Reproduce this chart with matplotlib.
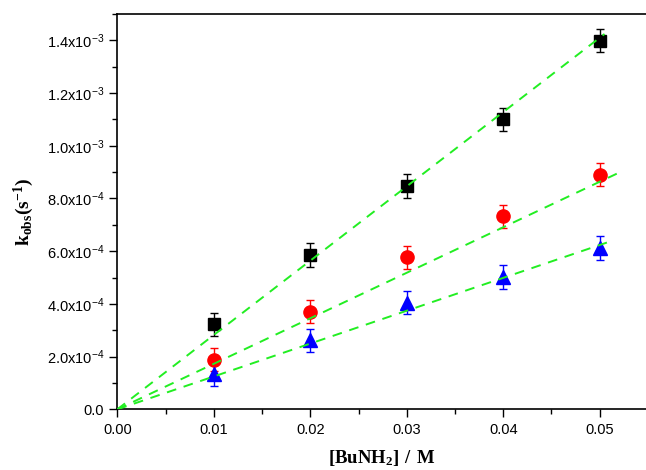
import numpy as np
import matplotlib.pyplot as plt
from matplotlib.ticker import MultipleLocator, FixedLocator, FixedFormatter

# Data
conc = [0.01, 0.02, 0.03, 0.04, 0.05]
k_black = [3.22e-4, 5.86e-4, 8.48e-4, 1.10e-3, 1.399e-3]
k_red = [1.88e-4, 3.70e-4, 5.77e-4, 7.32e-4, 8.90e-4]
k_blue = [1.34e-4, 2.62e-4, 4.05e-4, 5.02e-4, 6.12e-4]
err_black = [4.5e-5, 4.5e-5, 4.5e-5, 4.5e-5, 4.5e-5]
err_red = [4.4e-5, 4.4e-5, 4.4e-5, 4.4e-5, 4.4e-5]
err_blue = [4.4e-5, 4.4e-5, 4.4e-5, 4.4e-5, 4.4e-5]

# linear fits: slope, intercept, end of fitted line
fit_slopes = [0.0282, 0.01727, 0.01247]
fit_intercepts = [0.0, 0.0, 0.0]
fit_ends = [0.0505, 0.052, 0.0512]

ytick_vals = [0.0, 2e-4, 4e-4, 6e-4, 8e-4, 1.0e-3, 1.2e-3, 1.4e-3]
ytick_labels = ['0.0', r'$\mathregular{2.0x10^{-4}}$', r'$\mathregular{4.0x10^{-4}}$',
                r'$\mathregular{6.0x10^{-4}}$', r'$\mathregular{8.0x10^{-4}}$',
                r'$\mathregular{1.0x10^{-3}}$', r'$\mathregular{1.2x10^{-3}}$',
                r'$\mathregular{1.4x10^{-3}}$']

plt.rcParams['font.family'] = 'Liberation Sans'
plt.rcParams['mathtext.fontset'] = 'custom'
plt.rcParams['mathtext.rm'] = 'Liberation Sans'
plt.rcParams['mathtext.bf'] = 'Liberation Serif:bold'

fig = plt.figure(figsize=(6.46, 4.70), dpi=100)
ax = fig.add_axes([0.1816, 0.1291, 0.8184, 0.8411])

# fitted lines
for slope, b, xend in zip(fit_slopes, fit_intercepts, fit_ends):
    xs = np.array([0.0, xend])
    ax.plot(xs, slope * xs + b, color='#22ee22', lw=1.4, ls=(0, (5, 4)), zorder=3)

series = [
    (k_black, err_black, 's', 'black', 8.5),
    (k_red, err_red, 'o', 'red', 9.5),
    (k_blue, err_blue, '^', 'blue', 10),
]
for y, e, m, c, ms in series:
    ax.errorbar(conc, y, yerr=e, fmt=m, color=c, ms=ms, ecolor=c,
                elinewidth=1.0, capsize=3, capthick=1.0, zorder=2)

ax.set_xlim(0, 0.0548)
ax.set_ylim(0, 1.5e-3)
ax.xaxis.set_major_locator(MultipleLocator(0.01))
ax.xaxis.set_minor_locator(MultipleLocator(0.005))
ax.xaxis.set_major_formatter(plt.FuncFormatter(lambda v, p: f'{v:.2f}'))
ax.yaxis.set_major_locator(FixedLocator(ytick_vals))
ax.yaxis.set_major_formatter(FixedFormatter(ytick_labels))
ax.yaxis.set_minor_locator(MultipleLocator(1e-4))

ax.spines['right'].set_visible(False)
for s in ['left', 'bottom', 'top']:
    ax.spines[s].set_linewidth(1.2)
ax.tick_params(which='major', direction='out', length=6, width=1.0, labelsize=10.5)
ax.tick_params(which='minor', direction='out', length=3.5, width=1.0)

ax.set_xlabel(r'$\mathbf{[BuNH_2]\ /\ M}$', fontsize=13.5, labelpad=8)
ax.set_ylabel(r'$\mathbf{k_{obs}(s^{-1})}$', fontsize=14, labelpad=8)

fig.savefig('out.png', dpi=100)
